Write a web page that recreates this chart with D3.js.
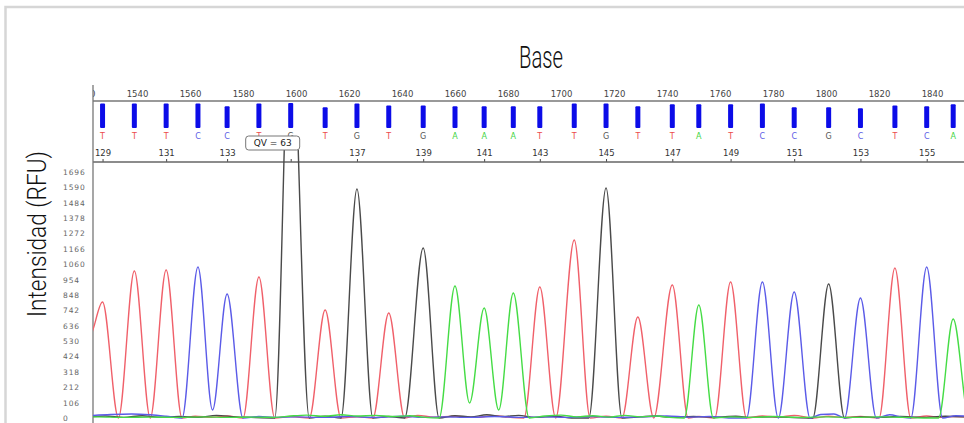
<!DOCTYPE html>
<html>
<head>
<meta charset="utf-8">
<script src="https://cdn.jsdelivr.net/npm/d3@7"></script>
<style>
  html, body { margin: 0; padding: 0; background: #fff; }
  svg { display: block; }
  .tick text { font-family: "DejaVu Sans", sans-serif; }
</style>
</head>
<body>
<div id="chart"></div>
<script>
// base calls, the scan where each base peaks and its quality value
const baseCalls = ['T','T','T','C','C','T','G','T','G','T','G','A','A','A','T','T','G','T','T','A','T','C','C','G','C','T','C','A'];
const baseScans = [1527,1539,1551,1563,1574,1586,1598,1611,1623,1635,1648,1660,1671,1682,1692,1705,1717,1729,1742,1752,1764,1776,1788,1801,1813,1826,1838,1848];
const qualityValues = [62,62,62,62,55,62,63,52,62,57,57,55,55,55,55,62,62,55,60,60,60,62,52,52,50,57,55,60];
const firstBaseNumber = 129;
const cursorBase = 6; // base under the "QV = 63" cursor

const scanTicks = [1520,1540,1560,1580,1600,1620,1640,1660,1680,1700,1720,1740,1760,1780,1800,1820,1840];
const intensityTicks = [0,106,212,318,424,530,636,742,848,954,1060,1166,1272,1378,1484,1590,1696];

// trace points [scan, RFU]
const traceT = [[1510,700],[1516,950],[1522,560],[1527,800],[1533,0],[1539,1013],[1545,0],[1551,1020],[1557,0],[1562,12],[1568,5],[1574,14],[1580,0],[1586,972],[1592,0],[1598,10],[1605,0],[1611,745],[1617,0],[1623,8],[1629,0],[1635,724],[1641,0],[1646,18],[1652,6],[1660,12],[1668,4],[1675,16],[1680,6],[1686,0],[1692,903],[1698,0],[1705,1227],[1711,0],[1717,12],[1723,0],[1729,696],[1735,0],[1742,917],[1748,0],[1752,10],[1758,0],[1764,938],[1770,0],[1776,14],[1782,6],[1788,18],[1795,0],[1801,12],[1807,4],[1813,10],[1820,0],[1826,1034],[1832,0],[1838,14],[1843,4],[1848,10],[1856,6]];
const traceG = [[1515,4],[1520,6],[1528,14],[1535,4],[1542,16],[1548,6],[1556,10],[1563,4],[1570,18],[1577,8],[1583,4],[1592,0],[1598,2900],[1605,0],[1611,12],[1617,0],[1623,1579],[1629,0],[1635,10],[1641,0],[1648,1172],[1654,0],[1660,16],[1666,8],[1672,22],[1678,10],[1684,18],[1690,4],[1698,12],[1704,0],[1710.5,0],[1717,1586],[1723,0],[1730,8],[1736,14],[1742,4],[1750,10],[1758,6],[1766,12],[1772,4],[1780,8],[1786,4],[1795,0],[1801,924],[1807,0],[1813,8],[1820,4],[1828,10],[1836,4],[1845,12],[1856,4]];
const traceC = [[1515,8],[1522,16],[1530,24],[1538,28],[1545,22],[1551,12],[1557,0],[1563,1041],[1568.5,55],[1574,855],[1580,0],[1586,10],[1592,4],[1600,8],[1610,4],[1620,10],[1630,4],[1640,12],[1648,4],[1656,8],[1665,4],[1675,10],[1686,4],[1694,8],[1702,4],[1712,10],[1720,4],[1730,8],[1740,14],[1748,6],[1756,10],[1764,0],[1770,0],[1776,938],[1782,0],[1788,869],[1794,0],[1798,24],[1803,28],[1807,0],[1813,827],[1819,0],[1824,22],[1829,4],[1832,0],[1838,1041],[1844,0],[1849,16],[1856,8]];
const traceA = [[1515,4],[1525,8],[1535,4],[1545,6],[1555,4],[1565,8],[1575,4],[1585,6],[1592,4],[1598,14],[1604,20],[1611,12],[1617,22],[1623,14],[1630,18],[1637,10],[1643,16],[1648,6],[1654,0],[1660,910],[1665.5,103],[1671,758],[1676.5,55],[1682,862],[1688,0],[1694,14],[1700,20],[1706,8],[1712,16],[1718,6],[1724,18],[1730,8],[1736,14],[1741,4],[1746.5,0],[1752,779],[1757.5,0],[1764,8],[1772,4],[1780,10],[1790,4],[1800,8],[1810,4],[1820,8],[1830,4],[1837,0],[1842.5,0],[1848,683],[1854,0],[1860,6]];

const dyeColor = { T: '#f0606a', C: '#5b5be8', G: '#4a4a4a', A: '#45dc45' };
const letterColor = { T: '#ec4b4b', C: '#5c5ce6', G: '#555', A: '#3fd43f' };

const W = 964, H = 423;
const plotLeft = 93, plotRight = W;
const scanAxisY = 101, baseAxisY = 162, barBottom = 128;

const svg = d3.select('#chart').append('svg')
  .attr('width', W)
  .attr('height', H);

const defs = svg.append('defs');
defs.append('clipPath').attr('id', 'clip-top')
  .append('rect').attr('x', plotLeft).attr('y', 0).attr('width', plotRight - plotLeft).attr('height', baseAxisY + 2);
defs.append('clipPath').attr('id', 'clip-trace')
  .append('rect').attr('x', plotLeft).attr('y', 150).attr('width', plotRight - plotLeft).attr('height', H - 150);

// outer frame
svg.append('rect')
  .attr('x', 5.5).attr('y', 7)
  .attr('width', W + 20).attr('height', H + 20)
  .attr('fill', 'none')
  .attr('stroke', '#d6d6d6')
  .attr('stroke-width', 2.5);

const x = d3.scaleLinear().domain([1540, 1840]).range([137, 932]);
const y = d3.scaleLinear().domain([0, 1696]).range([418, 172]);
const qv = d3.scaleLinear().domain([0, 63]).range([0, 25]);

// titles
svg.append('text')
  .attr('x', 541).attr('y', 68)
  .attr('text-anchor', 'middle')
  .attr('font-family', 'Roboto, sans-serif')
  .attr('font-weight', 300)
  .attr('font-size', 31)
  .attr('fill', '#111')
  .attr('textLength', 44)
  .attr('lengthAdjust', 'spacingAndGlyphs')
  .text('Base');

svg.append('text')
  .attr('transform', 'translate(46,234) rotate(-90)')
  .attr('text-anchor', 'middle')
  .attr('font-family', 'Roboto, sans-serif')
  .attr('font-weight', 300)
  .attr('font-size', 26)
  .attr('fill', '#111')
  .attr('textLength', 166)
  .attr('lengthAdjust', 'spacingAndGlyphs')
  .text('Intensidad (RFU)');

// intensity axis
const yAxis = svg.append('g')
  .attr('transform', `translate(${plotLeft},0)`)
  .call(d3.axisLeft(y).tickValues(intensityTicks).tickSize(0).tickFormat(d3.format('d')));
yAxis.select('.domain').remove();
yAxis.selectAll('text')
  .attr('x', -30)
  .attr('text-anchor', 'start')
  .attr('font-size', 7.5)
  .attr('letter-spacing', 0.9)
  .attr('fill', '#666');

// top strip: scan numbers, quality bars, base letters, base numbers
const topStrip = svg.append('g').attr('clip-path', 'url(#clip-top)');

const scanAxis = topStrip.append('g')
  .attr('transform', `translate(0,${scanAxisY})`)
  .call(d3.axisTop(x).tickValues(scanTicks).tickSize(0).tickPadding(4).tickFormat(d3.format('d')));
scanAxis.select('.domain').remove();
scanAxis.selectAll('text').attr('font-size', 8.5).attr('fill', '#444');

topStrip.selectAll('.qv-bar')
  .data(baseScans)
  .enter().append('rect')
  .attr('class', 'qv-bar')
  .attr('x', d => x(d) - 2.5)
  .attr('y', (d, i) => barBottom - qv(qualityValues[i]))
  .attr('width', 5)
  .attr('height', (d, i) => qv(qualityValues[i]))
  .attr('rx', 1)
  .attr('fill', '#0c0ce8');

topStrip.selectAll('.call')
  .data(baseScans)
  .enter().append('text')
  .attr('class', 'call')
  .attr('x', d => x(d))
  .attr('y', 136)
  .attr('text-anchor', 'middle')
  .attr('dominant-baseline', 'central')
  .attr('font-family', 'DejaVu Sans, sans-serif')
  .attr('font-size', 8)
  .attr('fill', (d, i) => letterColor[baseCalls[i]])
  .text((d, i) => baseCalls[i]);

const numberedScans = baseScans.filter((d, i) => i % 2 === 0);
const baseAxis = topStrip.append('g')
  .attr('transform', `translate(0,${baseAxisY})`)
  .call(d3.axisTop(x)
    .tickValues(numberedScans)
    .tickSize(3)
    .tickPadding(3)
    .tickFormat(d => {
      const i = baseScans.indexOf(d);
      return i === cursorBase ? '' : firstBaseNumber + i;
    }));
baseAxis.select('.domain').remove();
baseAxis.selectAll('line').attr('stroke', '#444');
baseAxis.selectAll('text').attr('font-size', 8.5).attr('fill', '#333');

// frame lines of the trace panel
svg.append('line')
  .attr('x1', plotLeft).attr('x2', plotRight).attr('y1', scanAxisY).attr('y2', scanAxisY)
  .attr('stroke', '#777').attr('stroke-width', 1.5);
svg.append('line')
  .attr('x1', plotLeft).attr('x2', plotRight).attr('y1', baseAxisY).attr('y2', baseAxisY)
  .attr('stroke', '#666').attr('stroke-width', 1.5);
svg.append('line')
  .attr('x1', plotLeft).attr('x2', plotLeft).attr('y1', 85).attr('y2', H)
  .attr('stroke', '#777').attr('stroke-width', 1.3);

// traces
const line = d3.line()
  .x(d => x(d[0]))
  .y(d => y(d[1]))
  .curve(d3.curveMonotoneX);

const traces = [
  { dye: 'T', points: traceT },
  { dye: 'G', points: traceG },
  { dye: 'C', points: traceC },
  { dye: 'A', points: traceA },
];

const traceGroup = svg.append('g').attr('clip-path', 'url(#clip-trace)');
traces.forEach(t => {
  traceGroup.append('path')
    .datum(t.points)
    .attr('fill', 'none')
    .attr('stroke', dyeColor[t.dye])
    .attr('stroke-width', 1.4)
    .attr('stroke-linejoin', 'round')
    .attr('d', line);
});

// QV cursor box over the selected base
const cx = x(baseScans[cursorBase]);
const qvBox = svg.append('g').attr('transform', `translate(${cx - 45},136)`);
qvBox.append('rect')
  .attr('width', 54).attr('height', 14)
  .attr('rx', 3)
  .attr('fill', '#fff')
  .attr('stroke', '#777');
qvBox.append('text')
  .attr('x', 27).attr('y', 7)
  .attr('text-anchor', 'middle')
  .attr('dominant-baseline', 'central')
  .attr('font-family', 'DejaVu Sans, sans-serif')
  .attr('font-size', 9)
  .attr('fill', '#222')
  .text('QV = ' + qualityValues[cursorBase]);
</script>
</body>
</html>
